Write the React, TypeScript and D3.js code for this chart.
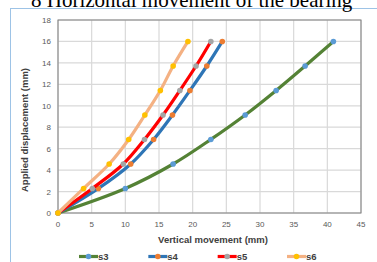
import * as d3 from 'd3';
import { useCallback } from 'react';

const yLevels = [0, 2.29, 4.57, 6.86, 9.14, 11.43, 13.71, 16];
const s3X = [0, 10, 17.1, 22.7, 27.8, 32.4, 36.7, 40.9];
const s4X = [0, 6.0, 10.8, 14.2, 17.0, 19.6, 22.1, 24.4];
const s5X = [0, 5.1, 9.7, 12.85, 15.6, 18.1, 20.5, 22.7];
const s6X = [0, 3.8, 7.6, 10.5, 12.9, 15.2, 17.1, 19.3];

const seriesNames = ['s3', 's4', 's5', 's6'];
const lineColors = ['#548235', '#2E75B6', '#FF0000', '#F4B183'];
const markerColors = ['#5B9BD5', '#ED7D31', '#A5A5A5', '#FFC000'];

const xTicks = [0, 5, 10, 15, 20, 25, 30, 35, 40, 45];
const yTicks = [0, 2, 4, 6, 8, 10, 12, 14, 16, 18];

const W = 377;
const H = 262;
const left = 58;
const right = 361;
const top = 20;
const bottom = 213;

const App = () => {
  const draw = useCallback((ref: SVGSVGElement | null) => {
    if (!ref) return;
    const svg = d3.select(ref);
    svg.selectAll('*').remove();

    const x = d3.scaleLinear().domain([0, 45]).range([left, right]);
    const y = d3.scaleLinear().domain([0, 18]).range([bottom, top]);

    svg.append('rect').attr('width', W).attr('height', H).attr('fill', '#fff');

    // outer chart frame
    svg
      .append('rect')
      .attr('x', 10.5)
      .attr('y', 8.5)
      .attr('width', 380)
      .attr('height', 270)
      .attr('fill', 'none')
      .attr('stroke', '#9DC3E6')
      .attr('stroke-width', 1);

    // grid
    const grid = svg.append('g').attr('stroke', '#d9d9d9').attr('stroke-width', 1.2);
    xTicks.forEach((t) => {
      grid.append('line').attr('x1', x(t)).attr('x2', x(t)).attr('y1', top).attr('y2', bottom);
    });
    yTicks.forEach((t) => {
      grid.append('line').attr('x1', left).attr('x2', right).attr('y1', y(t)).attr('y2', y(t));
    });

    svg
      .append('rect')
      .attr('x', left)
      .attr('y', top)
      .attr('width', right - left)
      .attr('height', bottom - top)
      .attr('fill', 'none')
      .attr('stroke', '#7f7f7f')
      .attr('stroke-width', 1);

    // tick labels
    const tickFont = 'Liberation Sans, Arial, sans-serif';
    svg
      .append('g')
      .selectAll('text')
      .data(xTicks)
      .join('text')
      .attr('x', (d) => x(d))
      .attr('y', 227)
      .attr('text-anchor', 'middle')
      .attr('font-family', tickFont)
      .attr('font-size', 8)
      .attr('fill', '#595959')
      .text((d) => d);
    svg
      .append('g')
      .selectAll('text')
      .data(yTicks)
      .join('text')
      .attr('x', 51)
      .attr('y', (d) => y(d) + 3)
      .attr('text-anchor', 'end')
      .attr('font-family', tickFont)
      .attr('font-size', 8)
      .attr('fill', '#595959')
      .text((d) => d);

    // axis titles
    svg
      .append('text')
      .attr('x', 213)
      .attr('y', 243)
      .attr('text-anchor', 'middle')
      .attr('font-family', tickFont)
      .attr('font-weight', 'bold')
      .attr('font-size', 9.5)
      .attr('fill', '#404040')
      .text('Vertical movement (mm)');
    svg
      .append('text')
      .attr('transform', `translate(28, 130) rotate(-90)`)
      .attr('text-anchor', 'middle')
      .attr('font-family', tickFont)
      .attr('font-weight', 'bold')
      .attr('font-size', 9.5)
      .attr('fill', '#404040')
      .text('Applied displacement (mm)');

    // series
    const allX = [s3X, s4X, s5X, s6X];
    const line = d3
      .line<[number, number]>()
      .x((d) => x(d[0]))
      .y((d) => y(d[1]))
      .curve(d3.curveCatmullRom.alpha(0.5));

    allX.forEach((xs, i) => {
      const pts: [number, number][] = xs.map((v, j) => [v, yLevels[j]]);
      const g = svg.append('g');
      g.append('path')
        .attr('d', line(pts))
        .attr('fill', 'none')
        .attr('stroke', lineColors[i])
        .attr('stroke-width', 3.2);
      g.selectAll('circle')
        .data(pts)
        .join('circle')
        .attr('cx', (d) => x(d[0]))
        .attr('cy', (d) => y(d[1]))
        .attr('r', 2.8)
        .attr('fill', markerColors[i]);
    });

    // legend
    const legX = d3.scalePoint<string>().domain(seriesNames).range([79, 287]);
    seriesNames.forEach((name, i) => {
      const lx = legX(name) || 0;
      const ly = 256.5;
      svg
        .append('line')
        .attr('x1', lx)
        .attr('x2', lx + 19)
        .attr('y1', ly)
        .attr('y2', ly)
        .attr('stroke', lineColors[i])
        .attr('stroke-width', 3.2);
      svg.append('circle').attr('cx', lx + 9.5).attr('cy', ly).attr('r', 2.8).attr('fill', markerColors[i]);
      svg
        .append('text')
        .attr('x', lx + 19)
        .attr('y', ly + 3.5)
        .attr('font-family', tickFont)
        .attr('font-weight', 'bold')
        .attr('font-size', 9.5)
        .attr('fill', '#404040')
        .text(name);
    });

    // caption above the chart, partly cut off by the top edge
    svg
      .append('text')
      .attr('x', 31)
      .attr('y', 7)
      .attr('font-family', 'Liberation Serif, Times New Roman, serif')
      .attr('font-size', 21)
      .attr('fill', '#000')
      .text('8 Horizontal movement of the bearing');
  }, []);

  return (
    <div style={{ position: 'absolute', left: 0, top: 0 }}>
      <svg width={W} height={H} ref={draw}></svg>
    </div>
  );
};

export default App;
